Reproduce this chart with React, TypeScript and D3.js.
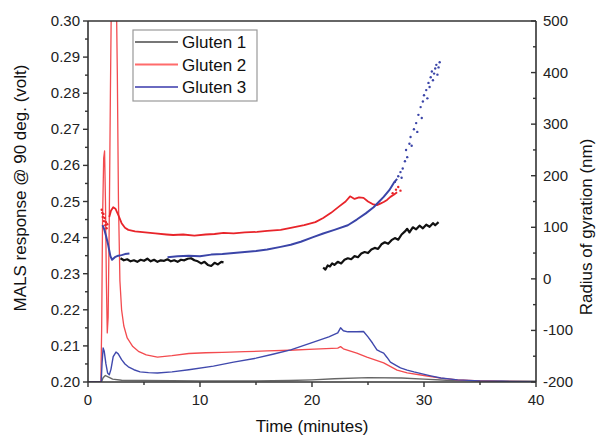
import React from 'react';
import * as d3 from 'd3';

// MALS response (left axis, volt): [minutes, volt]
const gluten1Mals: [number, number][] = [
  [0, 0.2], [1.2, 0.2], [1.35, 0.2012], [1.55, 0.2018], [1.8, 0.2014], [2.2, 0.2008], [3, 0.2005],
  [5, 0.2004], [10, 0.2003], [15, 0.2003], [18, 0.2004], [20, 0.2006], [22, 0.2009], [25, 0.2012],
  [28, 0.2011], [30, 0.2008], [32, 0.2005], [35, 0.2003], [40, 0.2002],
];
const gluten2Mals: [number, number][] = [
  [0, 0.2], [1.15, 0.2], [1.22, 0.215], [1.3, 0.245], [1.4, 0.262], [1.48, 0.264], [1.56, 0.25],
  [1.64, 0.228], [1.72, 0.2136], [1.8, 0.218], [1.9, 0.245], [2.0, 0.28], [2.1, 0.31], [2.3, 0.33],
  [2.5, 0.315], [2.62, 0.285], [2.72, 0.25], [2.85, 0.228], [3.0, 0.22], [3.2, 0.2155], [3.5, 0.2122],
  [4.0, 0.2098], [4.5, 0.2085], [5.2, 0.2075], [6.2, 0.2069], [7.5, 0.2073], [9, 0.2079], [10.5, 0.2081],
  [12, 0.2082], [14, 0.2084], [16, 0.2086], [18, 0.2088], [20.2, 0.2091], [22.3, 0.2094], [22.55, 0.2098],
  [22.8, 0.2092], [24, 0.208], [24.9, 0.2069], [26.4, 0.2053], [27.6, 0.2033], [28.5, 0.2025],
  [30, 0.2018], [31.5, 0.2011], [33, 0.2006], [35, 0.2003], [37, 0.2002], [40, 0.2001],
];
const gluten3Mals: [number, number][] = [
  [0, 0.2], [1.18, 0.2], [1.25, 0.205], [1.35, 0.2094], [1.45, 0.2085], [1.6, 0.205], [1.75, 0.2025],
  [1.9, 0.202], [2.05, 0.2035], [2.25, 0.207], [2.5, 0.2083], [2.7, 0.2078], [3.0, 0.2062], [3.3, 0.205],
  [3.6, 0.2042], [4.1, 0.2034], [4.65, 0.2028], [5.4, 0.2026], [6.2, 0.2025], [7.5, 0.2028], [9, 0.2034],
  [11.2, 0.2044], [13, 0.2055], [15, 0.2066], [16.5, 0.2077], [18.1, 0.2089], [20.2, 0.2111],
  [21.5, 0.2125], [22.3, 0.2136], [22.55, 0.215], [22.8, 0.2142], [23.2, 0.2139], [24, 0.2139],
  [24.6, 0.214], [25.0, 0.2125], [25.4, 0.2108], [25.8, 0.2089], [26.1, 0.2084], [26.4, 0.208],
  [26.7, 0.2068], [27.0, 0.2055], [27.5, 0.2046], [27.9, 0.2039], [28.5, 0.2033], [29.1, 0.2028],
  [30.6, 0.2017], [31.5, 0.2011], [33, 0.2006], [35, 0.2003], [37, 0.2002], [40, 0.2001],
];

// Radius of gyration (right axis, nm)
const gluten1RgA: [number, number][] = [
  [2.9, 40], [3.2, 36], [3.5, 38], [3.8, 34], [4.1, 36], [4.4, 33], [4.7, 37], [5.0, 35], [5.3, 39],
  [5.6, 34], [5.9, 37], [6.2, 33], [6.5, 36], [6.8, 35], [7.1, 38], [7.4, 34], [7.7, 36], [8.0, 33],
  [8.3, 37], [8.6, 36], [8.9, 39], [9.2, 40], [9.5, 36], [9.8, 34], [10.1, 30], [10.4, 33], [10.7, 27],
  [11.0, 25], [11.3, 31], [11.6, 28], [11.9, 33], [12.1, 32],
];
const gluten1RgB: [number, number][] = [
  [21.0, 22], [21.2, 18], [21.4, 26], [21.6, 24], [21.8, 30], [22.0, 27], [22.3, 33], [22.6, 30],
  [22.9, 37], [23.2, 40], [23.5, 38], [23.8, 44], [24.1, 42], [24.4, 49], [24.7, 52], [25.0, 50],
  [25.3, 57], [25.6, 60], [25.9, 58], [26.2, 67], [26.5, 71], [26.8, 68], [27.1, 75], [27.4, 79],
  [27.7, 76], [28.0, 86], [28.3, 92], [28.5, 97], [28.7, 90], [29.0, 100], [29.3, 96], [29.6, 103],
  [29.9, 98], [30.2, 105], [30.5, 101], [30.8, 108], [31.0, 104], [31.3, 110],
];
const gluten2RgDots: [number, number][] = [
  [1.22, 134], [1.27, 128], [1.32, 120], [1.38, 126], [1.42, 112], [1.48, 118], [1.55, 104],
  [1.6, 110], [1.66, 98], [1.72, 106], [27.2, 166], [27.5, 173], [27.7, 178], [27.9, 171],
];
const gluten2Rg: [number, number][] = [
  [1.9, 120], [2.05, 132], [2.25, 139], [2.45, 136], [2.7, 124], [3.0, 108], [3.3, 99], [3.6, 95],
  [4.2, 92], [5.1, 90], [6, 88], [7, 86], [7.6, 85], [8.5, 86], [9.5, 84], [10.5, 86], [11.3, 87],
  [12.1, 89], [13, 88], [14, 90], [15.1, 91], [16, 93], [17.2, 95], [18.1, 99], [19.3, 104],
  [20.3, 110], [21, 118], [21.7, 128], [22.4, 140], [23.0, 150], [23.4, 160], [23.8, 155], [24.2, 158],
  [24.6, 157], [25.0, 150], [25.4, 145], [25.8, 143], [26.1, 146], [26.4, 149], [26.7, 153],
  [27.0, 159], [27.3, 163], [27.6, 168],
];
const gluten3RgA: [number, number][] = [
  [1.3, 104], [1.45, 96], [1.6, 84], [1.8, 66], [2.0, 44], [2.15, 37], [2.4, 42], [2.7, 45],
  [3.0, 46], [3.3, 48], [3.7, 49],
];
const gluten3RgB: [number, number][] = [
  [7.1, 42], [8, 44], [9, 45], [10, 44], [11, 47], [12, 48], [13, 50], [14, 52], [15, 54], [16, 57],
  [17.2, 62], [18.1, 66], [19, 72], [20.1, 81], [21, 88], [22, 95], [23.2, 104], [24, 115], [24.8, 127],
  [25.5, 139], [26, 150], [26.4, 159], [26.9, 172], [27.3, 186], [27.6, 194],
];
const gluten3RgDots: [number, number][] = [
  [27.4, 188], [27.7, 199], [27.9, 207], [28.0, 196], [28.1, 214], [28.3, 228], [28.4, 250],
  [28.5, 236], [28.7, 262], [28.8, 275], [28.9, 258], [29.1, 290], [29.3, 302], [29.4, 285],
  [29.5, 318], [29.7, 333], [29.8, 312], [29.9, 344], [30.0, 356], [30.2, 366], [30.3, 350],
  [30.4, 380], [30.5, 372], [30.6, 391], [30.7, 402], [30.8, 385], [30.9, 398], [31.0, 408],
  [31.1, 415], [31.2, 396], [31.3, 410], [31.4, 420],
];

const xTicks = [0, 10, 20, 30, 40];
const leftTicks = [0.2, 0.21, 0.22, 0.23, 0.24, 0.25, 0.26, 0.27, 0.28, 0.29, 0.3];
const rightTicks = [-200, -100, 0, 100, 200, 300, 400, 500];
const legendLabels = ['Gluten 1', 'Gluten 2', 'Gluten 3'];

const W = 597, H = 436;
const m = { left: 88, right: 61, top: 21, bottom: 54 };
const font = 'Liberation Sans, Arial, sans-serif';

export default function App() {
  const x = d3.scaleLinear().domain([0, 40]).range([m.left, W - m.right]);
  const yL = d3.scaleLinear().domain([0.2, 0.3]).range([H - m.bottom, m.top]);
  const yR = d3.scaleLinear().domain([-200, 500]).range([H - m.bottom, m.top]);
  const lineL = d3.line<[number, number]>().x(d => x(d[0])).y(d => yL(d[1]));
  const lineR = d3.line<[number, number]>().x(d => x(d[0])).y(d => yR(d[1]));
  const x0 = x(0), x1 = x(40), yb = yL(0.2), yt = yL(0.3);
  const axisColor = '#333';

  const legendColors = ['#777', '#ff6b6b', '#6a6ac0'];

  return (
    <svg width={W} height={H} style={{ position: 'absolute', left: 0, top: 0, background: '#fff' }}>
      <defs>
        <clipPath id="plot">
          <rect x={x0} y={yt} width={x1 - x0} height={yb - yt} />
        </clipPath>
      </defs>
      <g clipPath="url(#plot)" fill="none" strokeLinejoin="round">
        <path d={lineL(gluten1Mals)!} stroke="#666" strokeWidth={1.4} />
        <path d={lineL(gluten2Mals)!} stroke="#f34b4f" strokeWidth={1.3} />
        <path d={lineL(gluten3Mals)!} stroke="#4049ad" strokeWidth={1.4} />
        <path d={lineR(gluten1RgA)!} stroke="#111" strokeWidth={2.2} />
        <path d={lineR(gluten1RgB)!} stroke="#111" strokeWidth={2.2} />
        <path d={lineR(gluten2Rg)!} stroke="#e8242a" strokeWidth={1.8} />
        <path d={lineR(gluten3RgA)!} stroke="#3b45a8" strokeWidth={2} />
        <path d={lineR(gluten3RgB)!} stroke="#3b45a8" strokeWidth={2} />
        {gluten2RgDots.map((d, i) => (
          <circle key={'r' + i} cx={x(d[0])} cy={yR(d[1])} r={1.2} fill="#e8242a" />
        ))}
        {gluten3RgDots.map((d, i) => (
          <circle key={'b' + i} cx={x(d[0])} cy={yR(d[1])} r={1.2} fill="#3b45a8" />
        ))}
      </g>

      {/* frame */}
      <g stroke={axisColor} strokeWidth={1.6} fill="none">
        <line x1={x0} x2={x1} y1={yt} y2={yt} />
        <line x1={x0} x2={x1} y1={yb} y2={yb} />
        <line x1={x0} x2={x0} y1={yt} y2={yb} />
        <line x1={x1} x2={x1} y1={yt} y2={yb} />
      </g>

      {/* bottom axis */}
      <g fontFamily={font} fontSize={15} fill="#222">
        {d3.range(0, 41, 5).map(t => (
          <line key={'xt' + t} x1={x(t)} x2={x(t)} y1={yb} y2={yb + (t % 10 === 0 ? 5 : 3)} stroke={axisColor} strokeWidth={1.4} />
        ))}
        {xTicks.map(t => (
          <text key={'xl' + t} x={x(t)} y={yb + 23} textAnchor="middle">{t}</text>
        ))}
      </g>

      {/* left axis */}
      <g fontFamily={font} fontSize={15} fill="#222">
        {d3.range(0, 21).map(i => {
          const v = 0.2 + i * 0.005;
          return (
            <line key={'lt' + i} x1={x0 - (i % 2 === 0 ? 5 : 3)} x2={x0} y1={yL(v)} y2={yL(v)} stroke={axisColor} strokeWidth={1.4} />
          );
        })}
        {leftTicks.map(v => (
          <text key={'ll' + v} x={x0 - 8} y={yL(v) + 5} textAnchor="end">{d3.format('.2f')(v)}</text>
        ))}
      </g>

      {/* right axis */}
      <g fontFamily={font} fontSize={15} fill="#222">
        {d3.range(-200, 501, 50).map(v => (
          <line key={'rt' + v} x1={x1 - (v % 100 === 0 ? 5 : 3)} x2={x1} y1={yR(v)} y2={yR(v)} stroke={axisColor} strokeWidth={1.4} />
        ))}
        {rightTicks.map(v => (
          <text key={'rl' + v} x={x1 + 7} y={yR(v) + 5} textAnchor="start">{v}</text>
        ))}
      </g>

      {/* axis titles */}
      <text x={(x0 + x1) / 2} y={432} textAnchor="middle" fontFamily={font} fontSize={17} fill="#111">Time (minutes)</text>
      <text transform="translate(26,188) rotate(-90)" textAnchor="middle" fontFamily={font} fontSize={17} fill="#111">
        MALS response @ 90 deg. (volt)
      </text>
      <text transform="translate(592,227) rotate(-90)" textAnchor="middle" fontFamily={font} fontSize={17} fill="#111">
        Radius of gyration (nm)
      </text>

      {/* legend */}
      <g fontFamily={font} fontSize={17} fill="#111">
        <rect x={133} y={30} width={124} height={71} fill="#fff" stroke="#999" strokeWidth={1.2} />
        {legendLabels.map((s, i) => (
          <g key={s}>
            <line x1={135} x2={178} y1={42 + i * 22.5} y2={42 + i * 22.5} stroke={legendColors[i]} strokeWidth={1.8} />
            <text x={182} y={48 + i * 22.5}>{s}</text>
          </g>
        ))}
      </g>
    </svg>
  );
}
